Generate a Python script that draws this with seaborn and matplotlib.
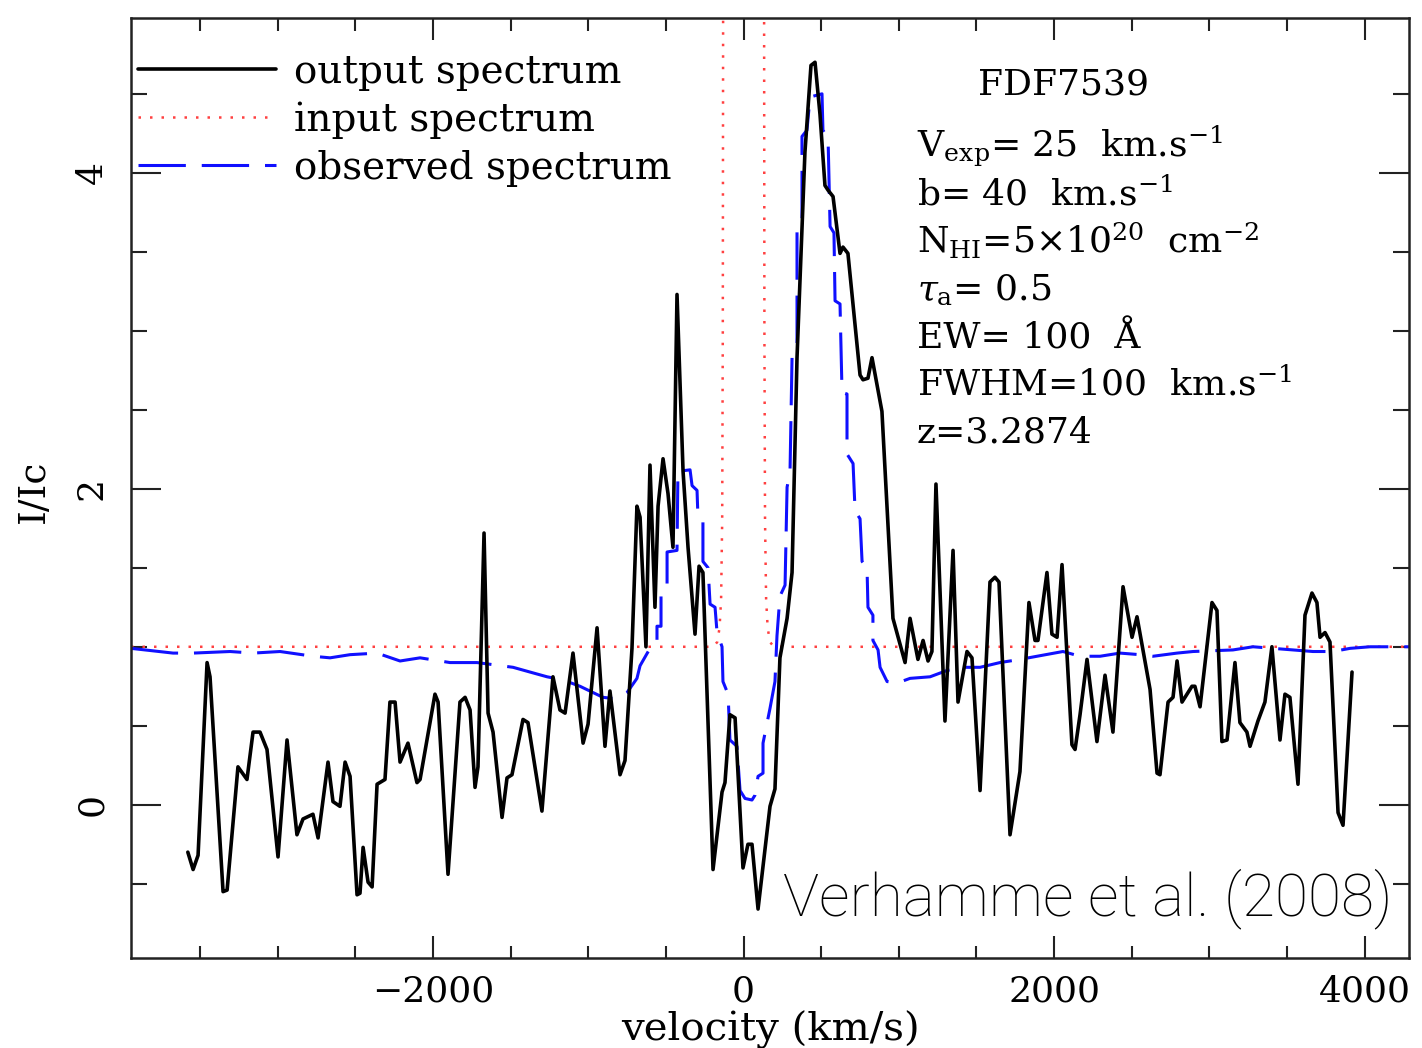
import numpy as np
import pandas as pd
import matplotlib
matplotlib.use("Agg")
import matplotlib.pyplot as plt
import seaborn as sns
from matplotlib.ticker import MultipleLocator

# ---------------- data ----------------
# output spectrum (black solid)
out_vel = [-3580, -3546, -3514, -3456, -3437, -3353, -3327, -3257, -3199, -3160,
           -3115, -3070, -2999, -2941, -2877, -2838, -2774, -2741, -2677, -2645,
           -2600, -2567, -2535, -2490, -2471, -2451, -2419, -2393, -2361, -2310,
           -2278, -2245, -2213, -2162, -2104, -2084, -1988, -1968, -1904, -1827,
           -1794, -1762, -1730, -1711, -1672, -1646, -1614, -1556, -1524, -1492,
           -1421, -1389, -1299, -1228, -1183, -1150, -1099, -1034, -1002, -944,
           -912, -893, -861, -796, -764, -719, -687, -667, -629, -603,
           -571, -551, -519, -487, -455, -429, -390, -358, -313, -287,
           -262, -197, -139, -120, -88, -55, -4, 28, 54, 93,
           170, 202, 234, 280, 312, 344, 395, 434, 460, 492,
           524, 544, 576, 621, 640, 672, 750, 769, 801, 827,
           891, 962, 1040, 1072, 1123, 1156, 1188, 1213, 1239, 1297,
           1349, 1381, 1439, 1471, 1523, 1587, 1619, 1645, 1716, 1780,
           1838, 1877, 1896, 1954, 1986, 2019, 2051, 2115, 2135, 2167,
           2212, 2276, 2328, 2379, 2444, 2502, 2534, 2618, 2663, 2682,
           2734, 2766, 2792, 2824, 2888, 2907, 2940, 3017, 3049, 3081,
           3114, 3165, 3197, 3242, 3262, 3313, 3358, 3403, 3455, 3487,
           3519, 3571, 3616, 3661, 3693, 3713, 3745, 3777, 3829, 3861, 3919]
out_flux = [-0.30, -0.41, -0.32, 0.90, 0.81, -0.55, -0.54, 0.24, 0.16, 0.46,
            0.46, 0.35, -0.33, 0.41, -0.19, -0.09, -0.06, -0.21, 0.27, 0.02,
            -0.01, 0.27, 0.18, -0.57, -0.56, -0.27, -0.49, -0.52, 0.13, 0.16,
            0.65, 0.65, 0.27, 0.39, 0.14, 0.16, 0.70, 0.65, -0.44, 0.65,
            0.68, 0.60, 0.11, 0.24, 1.72, 0.58, 0.46, -0.08, 0.17, 0.19,
            0.54, 0.52, -0.04, 0.81, 0.60, 0.58, 0.96, 0.39, 0.51, 1.12,
            0.65, 0.37, 0.72, 0.19, 0.28, 0.99, 1.89, 1.82, 1.00, 2.15,
            1.25, 1.89, 2.19, 1.97, 1.63, 3.23, 2.11, 1.63, 1.08, 1.51,
            1.47, -0.41, 0.08, 0.14, 0.57, 0.55, -0.40, -0.25, -0.25, -0.66,
            -0.01, 0.10, 0.93, 1.18, 1.47, 2.83, 4.13, 4.68, 4.70, 4.37,
            3.92, 3.89, 3.85, 3.49, 3.53, 3.49, 2.72, 2.69, 2.70, 2.83,
            2.49, 1.18, 0.90, 1.18, 0.92, 1.04, 0.91, 0.97, 2.03, 0.53,
            1.61, 0.65, 0.97, 0.93, 0.09, 1.41, 1.44, 1.41, -0.19, 0.21,
            1.28, 1.04, 1.04, 1.47, 1.08, 1.06, 1.52, 0.38, 0.35, 0.57,
            0.92, 0.40, 0.82, 0.46, 1.38, 1.06, 1.19, 0.73, 0.20, 0.19,
            0.65, 0.68, 0.91, 0.65, 0.75, 0.75, 0.62, 1.28, 1.23, 0.40,
            0.41, 0.90, 0.52, 0.46, 0.37, 0.53, 0.65, 1.00, 0.41, 0.70,
            0.68, 0.13, 1.20, 1.34, 1.28, 1.06, 1.09, 1.03, -0.05, -0.13, 0.84]

# observed spectrum (blue dashed, binned)
obs_vel = [-3946, -3675, -3546, -3308, -3160, -2986, -2774, -2664, -2535, -2361,
           -2213, -2084, -1891, -1717, -1485, -1376, -1266, -1163, -1054, -906,
           -815, -751, -687, -667, -603, -571, -558, -558, -532, -532,
           -493, -493, -429, -423, -345, -332, -300, -294, -262, -262,
           -229, -216, -184, -171, -139, -133, -100, -88, -43, -23,
           9, 54, 73, 93, 125, 125, 170, 202, 215, 234,
           267, 280, 299, 312, 344, 344, 376, 376, 408, 428,
           505, 511, 544, 557, 582, 589, 621, 634, 666, 666,
           705, 718, 750, 763, 795, 801, 833, 833, 866, 879,
           924, 988, 1072, 1201, 1310, 1413, 1523, 1651, 1780, 1890,
           2057, 2167, 2296, 2424, 2553, 2637, 2792, 2895, 3152, 3281,
           3539, 3667, 3796, 3906, 4035, 4286]
obs_flux = [0.99, 0.96, 0.96, 0.97, 0.96, 0.97, 0.94, 0.93, 0.95, 0.96,
            0.91, 0.93, 0.90, 0.90, 0.87, 0.84, 0.81, 0.79, 0.75, 0.68,
            0.67, 0.71, 0.80, 0.88, 0.99, 1.03, 1.03, 1.13, 1.13, 1.32,
            1.35, 1.60, 1.61, 2.11, 2.12, 2.02, 1.99, 1.82, 1.79, 1.54,
            1.50, 1.27, 1.25, 1.09, 1.00, 0.78, 0.70, 0.41, 0.37, 0.09,
            0.04, 0.03, 0.06, 0.18, 0.20, 0.39, 0.61, 0.78, 1.07, 1.32,
            1.39, 2.01, 2.11, 2.83, 2.91, 3.66, 3.70, 4.23, 4.27, 4.48,
            4.50, 4.27, 4.22, 3.66, 3.62, 3.19, 3.17, 2.61, 2.60, 2.22,
            2.16, 1.86, 1.81, 1.54, 1.50, 1.25, 1.20, 1.04, 0.98, 0.87,
            0.78, 0.77, 0.80, 0.81, 0.85, 0.87, 0.87, 0.90, 0.92, 0.94,
            0.97, 0.94, 0.94, 0.96, 0.95, 0.94, 0.96, 0.97, 0.98, 1.00,
            0.98, 0.97, 0.97, 0.99, 1.00, 1.00]

# input spectrum (red dotted): flat continuum plus a narrow line far off scale
inp_vel = [-3946, -195, -170, -155, -145, -138, -134, -131,
           131, 134, 138, 145, 155, 170, 195, 4286]
inp_flux = [1.0, 1.0, 1.03, 1.12, 1.3, 1.8, 3.0, 6.0,
            6.0, 3.0, 1.8, 1.3, 1.12, 1.03, 1.0, 1.0]

legend_labels = ["output spectrum", "input spectrum", "observed spectrum"]
object_name = "FDF7539"
param_lines = [r"V$_{\rm exp}$= 25  km.s$^{-1}$",
               r"b= 40  km.s$^{-1}$",
               r"N$_{\rm HI}$=5$\times$10$^{20}$  cm$^{-2}$",
               r"$\tau_{\rm a}$= 0.5",
               r"EW= 100  Å",
               r"FWHM=100  km.s$^{-1}$",
               r"z=3.2874"]
credit = "Verhamme et al. (2008)"
x_label = "velocity (km/s)"
y_label = "I/Ic"

# ---------------- style ----------------
sns.set_style("ticks")
plt.rcParams["font.family"] = ["DejaVu Serif"]
plt.rcParams["mathtext.fontset"] = "dejavuserif"
plt.rcParams["axes.linewidth"] = 1.8
plt.rcParams["axes.edgecolor"] = "#222222"
plt.rcParams["text.color"] = "black"
plt.rcParams["axes.labelcolor"] = "black"
plt.rcParams["xtick.color"] = "#222222"
plt.rcParams["ytick.color"] = "#222222"
plt.rcParams["xtick.labelcolor"] = "black"
plt.rcParams["ytick.labelcolor"] = "black"

W, H = 1422, 1048
fig = plt.figure(figsize=(W / 100, H / 100), dpi=100)
ax = fig.add_axes([131 / W, 90 / H, 1278 / W, 940 / H])

df_in = pd.DataFrame({"velocity": inp_vel, "flux": inp_flux})
df_obs = pd.DataFrame({"velocity": obs_vel, "flux": obs_flux})
df_out = pd.DataFrame({"velocity": out_vel, "flux": out_flux})

sns.lineplot(data=df_in, x="velocity", y="flux", ax=ax, sort=False,
             estimator=None, color="#ff4040", linewidth=1.8,
             linestyle=(0, (1.0, 3.6)))
sns.lineplot(data=df_obs, x="velocity", y="flux", ax=ax, sort=False,
             estimator=None, color="#1010ff", linewidth=2.2,
             linestyle=(0, (15.5, 5.2)))
sns.lineplot(data=df_out, x="velocity", y="flux", ax=ax, sort=False,
             estimator=None, color="black", linewidth=2.6)

h_in, h_obs, h_out = ax.lines[0], ax.lines[1], ax.lines[2]

ax.set_xlim(-3946, 4286)
ax.set_ylim(-0.97, 4.98)
ax.xaxis.set_major_locator(MultipleLocator(2000))
ax.xaxis.set_minor_locator(MultipleLocator(500))
ax.yaxis.set_major_locator(MultipleLocator(2))
ax.yaxis.set_minor_locator(MultipleLocator(0.5))

ax.tick_params(which="both", direction="in", top=True, right=True, width=1.5)
ax.tick_params(axis="x", which="major", length=16, pad=12, labelsize=26)
ax.tick_params(axis="x", which="minor", length=9)
ax.tick_params(axis="y", which="major", length=21.6, pad=16, labelsize=26,
               labelrotation=90)
ax.tick_params(axis="y", which="minor", length=11.5)
for lab in ax.get_yticklabels():
    lab.set_verticalalignment("center")

ax.set_xlabel(x_label, fontsize=29)
ax.set_ylabel(y_label, fontsize=27)
ax.xaxis.set_label_coords(0.5, -0.056)
ax.yaxis.set_label_coords(-0.062, 0.496)

leg = ax.legend(handles=[h_out, h_in, h_obs], labels=legend_labels,
                loc="upper left", bbox_to_anchor=(0.0055, 0.962),
                frameon=False, fontsize=28, handlelength=3.55,
                handletextpad=0.45, labelspacing=0.28, borderaxespad=0,
                borderpad=0)

ax.text(0.6628, 0.9181, object_name, transform=ax.transAxes, fontsize=26,
        ha="left", va="baseline")
param_y = [0.8521, 0.8000, 0.7489, 0.7000, 0.6489, 0.5989, 0.5479]
for txt, yy in zip(param_lines, param_y):
    ax.text(0.615, yy, txt, transform=ax.transAxes, fontsize=26,
            ha="left", va="baseline")

ax.text(0.5102, 0.0457, credit, transform=ax.transAxes, fontsize=43.5,
        family="Roboto", fontweight="light", ha="left", va="baseline",
        color="black")

fig.savefig("out.png", dpi=100)
